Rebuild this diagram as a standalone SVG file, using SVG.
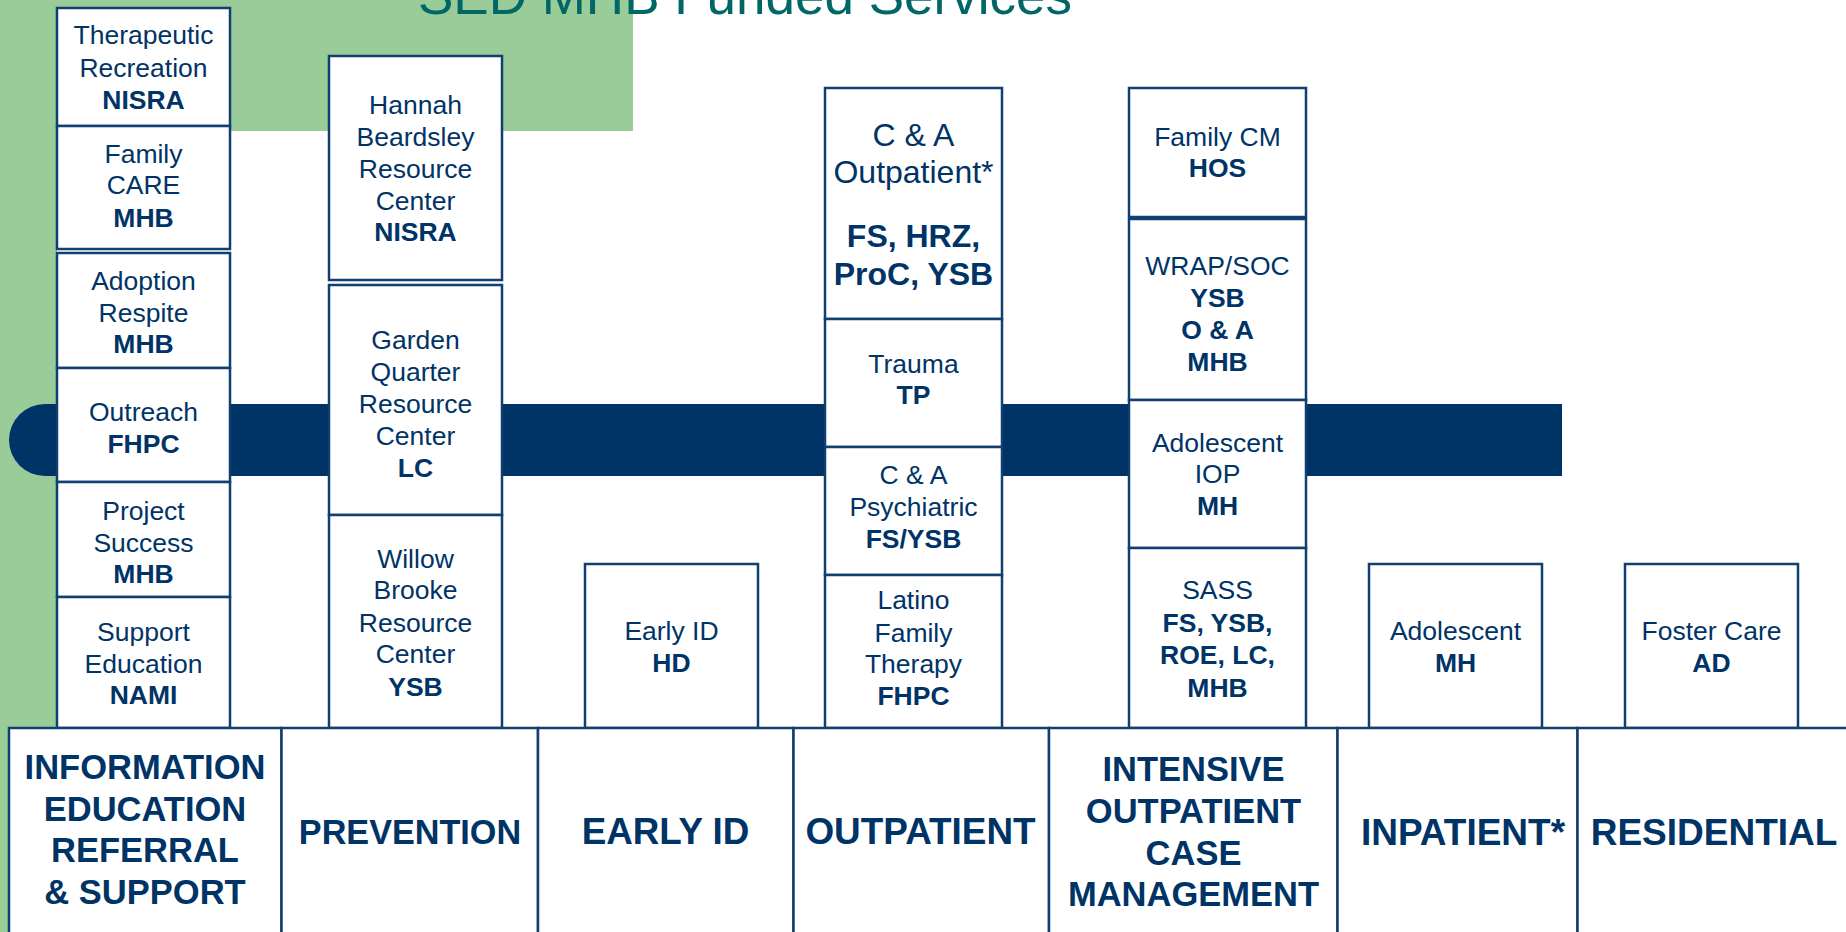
<svg xmlns="http://www.w3.org/2000/svg" width="1846" height="932" viewBox="0 0 1846 932">
<style>
.bg{fill:#99cc99}
.bar{fill:#003366}
.box{fill:#ffffff;stroke:#123f72;stroke-width:2.5}
.t{font-family:"Liberation Sans",Arial,sans-serif;font-size:26.5px;fill:#003366;text-anchor:middle}
.b{font-weight:bold}
.big{font-size:32px}
.cat{font-family:"Liberation Sans",Arial,sans-serif;font-weight:bold;fill:#003366;text-anchor:middle}
.title{font-family:"Liberation Sans",Arial,sans-serif;font-size:53px;fill:#006666}
</style>
<rect class="bg" x="0" y="0" width="633" height="131"/>
<rect class="bg" x="0" y="0" width="57" height="728"/>
<rect class="bg" x="0" y="728" width="9" height="204"/>
<text class="title" x="418" y="14">SED MHB Funded Services</text>
<g id="connectors">
<path class="bar" d="M45,404 H1562 V476 H45 A36,36 0 0 1 45,404 Z"/>
</g>
<g id="therapeutic"><rect class="box" x="57" y="8" width="173" height="118"/>
<text class="t" x="143.5" y="44.3">Therapeutic</text><text class="t" x="143.5" y="76.7">Recreation</text><text class="t b" x="143.5" y="108.7">NISRA</text></g>
<g id="family-care"><rect class="box" x="57" y="126" width="173" height="123"/>
<text class="t" x="143.5" y="162.7">Family</text><text class="t" x="143.5" y="194.3">CARE</text><text class="t b" x="143.5" y="226.7">MHB</text></g>
<g id="adoption"><rect class="box" x="57" y="253" width="173" height="115"/>
<text class="t" x="143.5" y="290">Adoption</text><text class="t" x="143.5" y="321.7">Respite</text><text class="t b" x="143.5" y="353.3">MHB</text></g>
<g id="outreach"><rect class="box" x="57" y="368" width="173" height="114"/>
<text class="t" x="143.5" y="420.7">Outreach</text><text class="t b" x="143.5" y="452.7">FHPC</text></g>
<g id="project-success"><rect class="box" x="57" y="482" width="173" height="115"/>
<text class="t" x="143.5" y="520">Project</text><text class="t" x="143.5" y="551.7">Success</text><text class="t b" x="143.5" y="583.3">MHB</text></g>
<g id="support-education"><rect class="box" x="57" y="597" width="173" height="131"/>
<text class="t" x="143.5" y="640.7">Support</text><text class="t" x="143.5" y="672.7">Education</text><text class="t b" x="143.5" y="704.3">NAMI</text></g>
<g id="hannah"><rect class="box" x="329" y="56" width="173" height="224"/>
<text class="t" x="415.5" y="114.3">Hannah</text><text class="t" x="415.5" y="145.7">Beardsley</text><text class="t" x="415.5" y="177.7">Resource</text><text class="t" x="415.5" y="210">Center</text><text class="t b" x="415.5" y="241.3">NISRA</text></g>
<g id="garden"><rect class="box" x="329" y="285" width="173" height="230"/>
<text class="t" x="415.5" y="349.3">Garden</text><text class="t" x="415.5" y="381">Quarter</text><text class="t" x="415.5" y="412.7">Resource</text><text class="t" x="415.5" y="445">Center</text><text class="t b" x="415.5" y="476.7">LC</text></g>
<g id="willow"><rect class="box" x="329" y="515" width="173" height="213"/>
<text class="t" x="415.5" y="567.7">Willow</text><text class="t" x="415.5" y="599.3">Brooke</text><text class="t" x="415.5" y="631.7">Resource</text><text class="t" x="415.5" y="663.3">Center</text><text class="t b" x="415.5" y="695.7">YSB</text></g>
<g id="early-id"><rect class="box" x="585" y="564" width="173" height="164"/>
<text class="t" x="671.5" y="640">Early ID</text><text class="t b" x="671.5" y="672.3">HD</text></g>
<g id="ca-outpatient"><rect class="box" x="825" y="88" width="177" height="231"/>
<text class="t big" x="913.5" y="145.7">C &amp; A</text><text class="t big" x="913.5" y="183.3">Outpatient*</text><text class="t big b" x="913.5" y="247.3">FS, HRZ,</text><text class="t big b" x="913.5" y="285">ProC, YSB</text></g>
<g id="trauma"><rect class="box" x="825" y="319" width="177" height="128"/>
<text class="t" x="913.5" y="372.7">Trauma</text><text class="t b" x="913.5" y="404.3">TP</text></g>
<g id="ca-psychiatric"><rect class="box" x="825" y="447" width="177" height="128"/>
<text class="t" x="913.5" y="484.3">C &amp; A</text><text class="t" x="913.5" y="516">Psychiatric</text><text class="t b" x="913.5" y="548.3">FS/YSB</text></g>
<g id="latino"><rect class="box" x="825" y="575" width="177" height="153"/>
<text class="t" x="913.5" y="609.3">Latino</text><text class="t" x="913.5" y="641.7">Family</text><text class="t" x="913.5" y="673.3">Therapy</text><text class="t b" x="913.5" y="705">FHPC</text></g>
<g id="family-cm"><rect class="box" x="1129" y="88" width="177" height="129"/>
<text class="t" x="1217.5" y="145.7">Family CM</text><text class="t b" x="1217.5" y="176.7">HOS</text></g>
<g id="wrap-soc"><rect class="box" x="1129" y="219" width="177" height="181"/>
<text class="t" x="1217.5" y="275.3">WRAP/SOC</text><text class="t b" x="1217.5" y="307.3">YSB</text><text class="t b" x="1217.5" y="339">O &amp; A</text><text class="t b" x="1217.5" y="370.7">MHB</text></g>
<g id="adolescent-iop"><rect class="box" x="1129" y="400" width="177" height="148"/>
<text class="t" x="1217.5" y="451.7">Adolescent</text><text class="t" x="1217.5" y="483.3">IOP</text><text class="t b" x="1217.5" y="515">MH</text></g>
<g id="sass"><rect class="box" x="1129" y="548" width="177" height="180"/>
<text class="t" x="1217.5" y="599.3">SASS</text><text class="t b" x="1217.5" y="631.7">FS, YSB,</text><text class="t b" x="1217.5" y="664.3">ROE, LC,</text><text class="t b" x="1217.5" y="696.7">MHB</text></g>
<g id="adolescent-inpatient"><rect class="box" x="1369" y="564" width="173" height="164"/>
<text class="t" x="1455.5" y="640">Adolescent</text><text class="t b" x="1455.5" y="672.3">MH</text></g>
<g id="foster-care"><rect class="box" x="1625" y="564" width="173" height="164"/>
<text class="t" x="1711.5" y="640">Foster Care</text><text class="t b" x="1711.5" y="672.3">AD</text></g>
<g id="cat-information"><rect class="box" x="9" y="728" width="272.5" height="220"/>
<text class="cat" style="font-size:34.5px" x="145" y="779.3">INFORMATION</text><text class="cat" style="font-size:34.5px" x="145" y="820.7">EDUCATION</text><text class="cat" style="font-size:34.5px" x="145" y="862.3">REFERRAL</text><text class="cat" style="font-size:34.5px" x="145" y="904.3">&amp; SUPPORT</text></g>
<g id="cat-prevention"><rect class="box" x="281.5" y="728" width="256.5" height="220"/>
<text class="cat" style="font-size:34.2px" x="410" y="844">PREVENTION</text></g>
<g id="cat-early-id"><rect class="box" x="538" y="728" width="255.5" height="220"/>
<text class="cat" style="font-size:36.8px" x="665.5" y="844">EARLY ID</text></g>
<g id="cat-outpatient"><rect class="box" x="793.5" y="728" width="255.5" height="220"/>
<text class="cat" style="font-size:36.9px" x="920.5" y="844">OUTPATIENT</text></g>
<g id="cat-intensive"><rect class="box" x="1049" y="728" width="288.5" height="220"/>
<text class="cat" style="font-size:34.5px" x="1193.5" y="780.7">INTENSIVE</text><text class="cat" style="font-size:34.5px" x="1193.5" y="822.7">OUTPATIENT</text><text class="cat" style="font-size:34.5px" x="1193.5" y="864.7">CASE</text><text class="cat" style="font-size:34.5px" x="1193.5" y="905.7">MANAGEMENT</text></g>
<g id="cat-inpatient"><rect class="box" x="1337.5" y="728" width="240" height="220"/>
<text class="cat" style="font-size:37px" x="1463" y="845">INPATIENT*</text></g>
<g id="cat-residential"><rect class="box" x="1577.5" y="728" width="290" height="220"/>
<text class="cat" style="font-size:37px" x="1714" y="845">RESIDENTIAL</text></g>
</svg>
